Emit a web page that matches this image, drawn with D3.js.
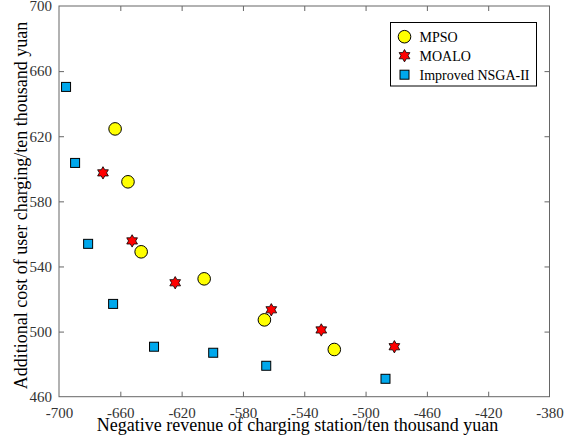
<!DOCTYPE html>
<html lang="en">
<head>
  <meta charset="UTF-8">
  <title>Pareto fronts</title>
  <script src="https://d3js.org/d3.v7.min.js"></script>
  <style>
    body { margin: 0; background: #fff; }
    svg { display: block; }
    svg text { font-family: "Liberation Serif", "Times New Roman", serif; }
  </style>
</head>
<body>
  <svg id="chart" width="566" height="443"></svg>
  <script>
    // values
    const mpsoX = [-663.4, -655, -646.4, -605.3, -566, -520.4];
    const mpsoY = [624.5, 592, 549, 532.4, 507.2, 489];
    const moaloX = [-671.3, -652.3, -624.2, -561.5, -528.9, -481.2];
    const moaloY = [597.5, 555.7, 530, 513.4, 501, 490.7];
    const nsgaX = [-695.4, -689.5, -681, -664.7, -638, -599.4, -564.8, -487];
    const nsgaY = [650.3, 603.6, 553.9, 517, 490.7, 487, 479, 471];
    const xTicks = [-700, -660, -620, -580, -540, -500, -460, -420, -380];
    const yTicks = [460, 500, 540, 580, 620, 660, 700];
    const seriesNames = ["MPSO", "MOALO", "Improved NSGA-II"];

    const svg = d3.select("#chart");
    const margin = { top: 6, right: 16.5, bottom: 46.3, left: 59 };
    const width = +svg.attr("width") - margin.left - margin.right;
    const height = +svg.attr("height") - margin.top - margin.bottom;

    const x = d3.scaleLinear().domain([-700, -380]).range([0, width]);
    const y = d3.scaleLinear().domain([460, 700]).range([height, 0]);

    const g = svg.append("g").attr("transform", `translate(${margin.left},${margin.top})`);

    const axisColor = "#666";
    const textColor = "#333";
    const fmt = d => String(d); // plain hyphen minus, like the original

    function styleAxis(sel, showText) {
      sel.attr("font-family", null);
      sel.select(".domain").remove();
      sel.selectAll(".tick line").attr("stroke", axisColor);
      if (!showText) { sel.selectAll(".tick text").remove(); return; }
      sel.selectAll(".tick text")
        .attr("fill", textColor)
        .style("font-size", "15px");
    }

    g.append("g").attr("transform", `translate(0,${height})`)
      .call(d3.axisBottom(x).tickValues(xTicks).tickSize(-5).tickPadding(10.5).tickFormat(fmt))
      .call(s => styleAxis(s, true));
    g.append("g")
      .call(d3.axisTop(x).tickValues(xTicks).tickSize(-5))
      .call(s => styleAxis(s, false));
    g.append("g")
      .call(d3.axisLeft(y).tickValues(yTicks).tickSize(-5).tickPadding(7).tickFormat(fmt))
      .call(s => styleAxis(s, true));
    g.append("g").attr("transform", `translate(${width},0)`)
      .call(d3.axisRight(y).tickValues(yTicks).tickSize(-5))
      .call(s => styleAxis(s, false));

    // no tick marks on the frame corners
    g.selectAll(".tick").filter(d => d === -700 || d === -380 || d === 460 || d === 700)
      .select("line").remove();

    g.append("rect")
      .attr("width", width).attr("height", height)
      .attr("fill", "none").attr("stroke", axisColor).attr("stroke-width", 1);

    function hexagram(r) {
      const pts = [];
      for (let i = 0; i < 12; i++) {
        const a = Math.PI / 6 * i - Math.PI / 2;
        const rr = i % 2 === 0 ? r : r * 0.577;
        pts.push([rr * Math.cos(a), rr * Math.sin(a)]);
      }
      return d3.line()(pts) + "Z";
    }

    function drawMarker(sel, kind) {
      if (kind === 0) {
        sel.append("circle").attr("r", 6.3)
          .attr("fill", "#ffff00").attr("stroke", "#000").attr("stroke-width", 1);
      } else if (kind === 1) {
        sel.append("path").attr("d", hexagram(6.2))
          .attr("fill", "#ff0000").attr("stroke", "#000").attr("stroke-width", 0.8);
      } else {
        sel.append("rect").attr("x", -4.5).attr("y", -4.5).attr("width", 9).attr("height", 9)
          .attr("fill", "#00a8ec").attr("stroke", "#000").attr("stroke-width", 1);
      }
    }

    const series = [
      { xs: mpsoX, ys: mpsoY },
      { xs: moaloX, ys: moaloY },
      { xs: nsgaX, ys: nsgaY }
    ];

    series.forEach((s, k) => {
      s.xs.forEach((xv, i) => {
        const m = g.append("g").attr("transform", `translate(${x(xv)},${y(s.ys[i])})`);
        drawMarker(m, k);
      });
    });

    // legend
    const legend = svg.append("g").attr("transform", "translate(390.5,22.5)");
    legend.append("rect").attr("width", 146).attr("height", 63.5)
      .attr("fill", "#fff").attr("stroke", "#000").attr("stroke-width", 1);
    seriesNames.forEach((name, k) => {
      const row = legend.append("g").attr("transform", `translate(14,${14.2 + k * 19})`);
      drawMarker(row, k);
      row.append("text").attr("x", 15).attr("y", 4.8)
        .style("font-size", "14px").attr("fill", "#000").text(name);
    });

    // axis titles
    svg.append("text")
      .attr("x", 297.5).attr("y", 431)
      .attr("text-anchor", "middle").style("font-size", "18px").attr("fill", "#000")
      .text("Negative revenue of charging station/ten thousand yuan");
    svg.append("text")
      .attr("transform", "translate(26.5,205.5) rotate(-90)")
      .attr("text-anchor", "middle").style("font-size", "18px").attr("fill", "#000")
      .text("Additional cost of user charging/ten thousand yuan");
  </script>
</body>
</html>
